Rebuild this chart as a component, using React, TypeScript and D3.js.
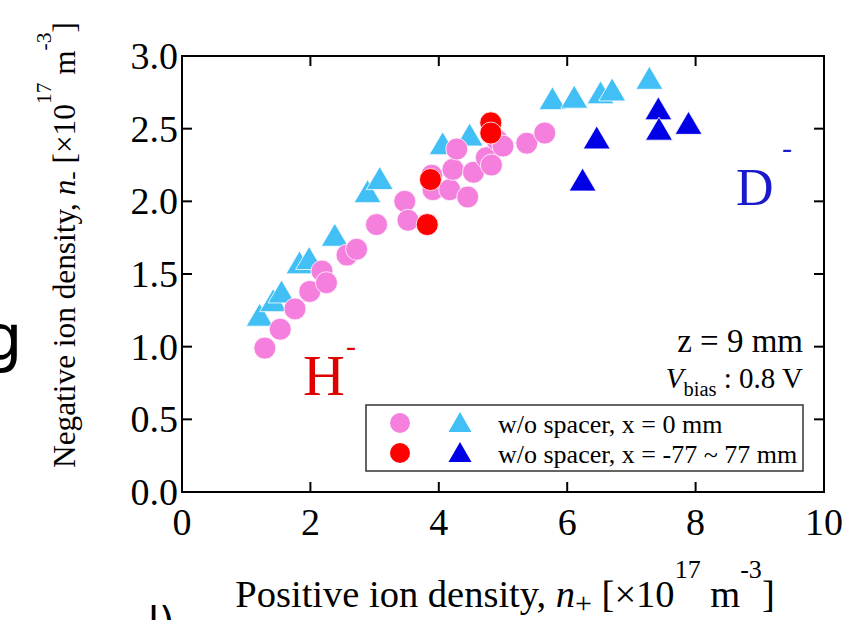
import React from "react";
import * as d3 from "d3";

// H- (circles) and D- (triangles), w/o spacer x = 0 mm
const hZeroX = [1.29, 1.53, 1.76, 1.99, 2.18, 2.25, 2.57, 2.72, 3.03, 3.47, 3.52, 3.89, 3.91, 4.17, 4.22, 4.28, 4.45, 4.54, 4.74, 4.82, 4.91, 5.0, 5.37, 5.65];
const hZeroY = [0.99, 1.12, 1.26, 1.38, 1.52, 1.44, 1.63, 1.67, 1.84, 2.0, 1.87, 2.18, 2.08, 2.08, 2.22, 2.36, 2.03, 2.2, 2.3, 2.25, 2.42, 2.38, 2.4, 2.47];
const dZeroX = [1.21, 1.42, 1.55, 1.83, 1.98, 2.38, 2.89, 3.08, 4.06, 4.48, 5.77, 6.11, 6.52, 6.7, 7.28];
const dZeroY = [1.22, 1.32, 1.38, 1.58, 1.61, 1.77, 2.07, 2.16, 2.4, 2.46, 2.71, 2.72, 2.75, 2.77, 2.85];
// w/o spacer x = -77 ~ 77 mm
const hScanX = [3.87, 3.82, 4.81, 4.81];
const hScanY = [2.15, 1.84, 2.54, 2.47];
const dScanX = [7.42, 7.43, 7.89, 6.46, 6.24];
const dScanY = [2.64, 2.5, 2.54, 2.44, 2.15];

const xTicks = [0, 2, 4, 6, 8, 10];
const yTicks = [0, 0.5, 1.0, 1.5, 2.0, 2.5, 3.0];
const legendLabels = ["w/o spacer, x = 0 mm", "w/o spacer, x = -77 ~ 77 mm"];

const PINK = "#f47fdc";
const LBLUE = "#42c0f6";
const RED = "#ff0000";
const DBLUE = "#0000e6";
const FONT = "'Liberation Serif', 'Times New Roman', serif";

const tri = (cx: number, cy: number, w: number, h: number) => {
  const p = d3.path();
  p.moveTo(cx, cy - h / 2);
  p.lineTo(cx + w / 2, cy + h / 2);
  p.lineTo(cx - w / 2, cy + h / 2);
  p.closePath();
  return p.toString();
};

export default function App() {
  const x = d3.scaleLinear().domain([0, 10]).range([182, 824]);
  const y = d3.scaleLinear().domain([0, 3]).range([492, 56]);
  const [x0, x1] = x.range();
  const [y0, y1] = y.range();
  const tickLen = 10;
  const R = 11;
  const TW = 27, TH = 23;

  const zip = (xs: number[], ys: number[]) => xs.map((v, i) => [v, ys[i]]);

  return (
    <svg width={859} height={620} style={{ position: "absolute", left: 0, top: 0, background: "#fff" }} fontFamily={FONT}>
      <rect x={0} y={0} width={859} height={620} fill="#fff" />
      {/* fragments of neighbouring content */}
      <text x={-18} y={360} fontSize={64} fontFamily="'DejaVu Sans', sans-serif" fill="#000">g</text>
      <text x={148} y={636} fontSize={40} fontFamily="'DejaVu Sans', sans-serif" fill="#000">l)</text>

      {/* markers */}
      <g stroke="#fff" strokeWidth={0.8}>
        {zip(dZeroX, dZeroY).map(([a, b], i) => (
          <path key={"dz" + i} d={tri(x(a), y(b), TW, TH)} fill={LBLUE} />
        ))}
        {zip(hZeroX, hZeroY).map(([a, b], i) => (
          <circle key={"hz" + i} cx={x(a)} cy={y(b)} r={R} fill={PINK} />
        ))}
        {zip(hScanX, hScanY).map(([a, b], i) => (
          <circle key={"hs" + i} cx={x(a)} cy={y(b)} r={R} fill={RED} />
        ))}
        {zip(dScanX, dScanY).map(([a, b], i) => (
          <path key={"ds" + i} d={tri(x(a), y(b), TW, TH)} fill={DBLUE} />
        ))}
      </g>

      {/* frame */}
      <rect x={x0} y={y1} width={x1 - x0} height={y0 - y1} fill="none" stroke="#000" strokeWidth={2} />
      {xTicks.slice(1, -1).map((t) => (
        <g key={"xt" + t} stroke="#000" strokeWidth={2}>
          <line x1={x(t)} x2={x(t)} y1={y0} y2={y0 - tickLen} />
          <line x1={x(t)} x2={x(t)} y1={y1} y2={y1 + tickLen} />
        </g>
      ))}
      {yTicks.slice(1, -1).map((t) => (
        <g key={"yt" + t} stroke="#000" strokeWidth={2}>
          <line x1={x0} x2={x0 + tickLen} y1={y(t)} y2={y(t)} />
          <line x1={x1} x2={x1 - tickLen} y1={y(t)} y2={y(t)} />
        </g>
      ))}
      {xTicks.map((t) => (
        <text key={"xl" + t} x={x(t)} y={535} fontSize={38} textAnchor="middle" fill="#000">{t}</text>
      ))}
      {yTicks.map((t) => (
        <text key={"yl" + t} x={178} y={y(t) + 13} fontSize={38} textAnchor="end" fill="#000">{t.toFixed(1)}</text>
      ))}

      {/* axis titles */}
      <text x={505} y={607} fontSize={38.5} textAnchor="middle" fill="#000">
        Positive ion density, <tspan fontStyle="italic">n</tspan>
        <tspan fontSize={30} dy={6}>+</tspan>
        <tspan dy={-6}> [×10</tspan>
        <tspan fontSize={26} dy={-29}>17</tspan>
        <tspan dy={29}> m</tspan>
        <tspan fontSize={26} dy={-29}>-3</tspan>
        <tspan dy={29}>]</tspan>
      </text>
      <text transform="translate(75,245) rotate(-90)" fontSize={31.3} textAnchor="middle" fill="#000">
        Negative ion density, <tspan fontStyle="italic">n</tspan>
        <tspan fontSize={25} dy={5}>-</tspan>
        <tspan dy={-5}> [×10</tspan>
        <tspan fontSize={21.5} dy={-24}>17</tspan>
        <tspan dy={24}> m</tspan>
        <tspan fontSize={21.5} dy={-24}>-3</tspan>
        <tspan dy={24}>]</tspan>
      </text>

      {/* annotations */}
      <text x={303} y={395} fontSize={58} fill="#e00000">H</text>
      <text x={346} y={356} fontSize={30} fill="#e00000">-</text>
      <text x={736} y={205} fontSize={52} fill="#1a1acc">D</text>
      <text x={782} y={158} fontSize={30} fill="#1a1acc">-</text>
      <text x={803} y={352} fontSize={33} textAnchor="end" fill="#000">z = 9 mm</text>
      <text x={803} y={388} fontSize={29} textAnchor="end" fill="#000">
        <tspan fontStyle="italic">V</tspan>
        <tspan fontSize={20.5} dy={8}>bias</tspan>
        <tspan dy={-8}> : 0.8 V</tspan>
      </text>

      {/* legend */}
      <rect x={366} y={405} width={437} height={66} fill="#fff" stroke="#333" strokeWidth={1.5} />
      <circle cx={400} cy={423} r={10} fill={PINK} />
      <path d={tri(460, 422, 23, 20)} fill={LBLUE} />
      <circle cx={400} cy={453} r={10} fill={RED} />
      <path d={tri(460, 452, 23, 20)} fill={DBLUE} />
      {legendLabels.map((s, i) => (
        <text key={s} x={498} y={433 + i * 30} fontSize={26} fill="#000">{s}</text>
      ))}
    </svg>
  );
}
